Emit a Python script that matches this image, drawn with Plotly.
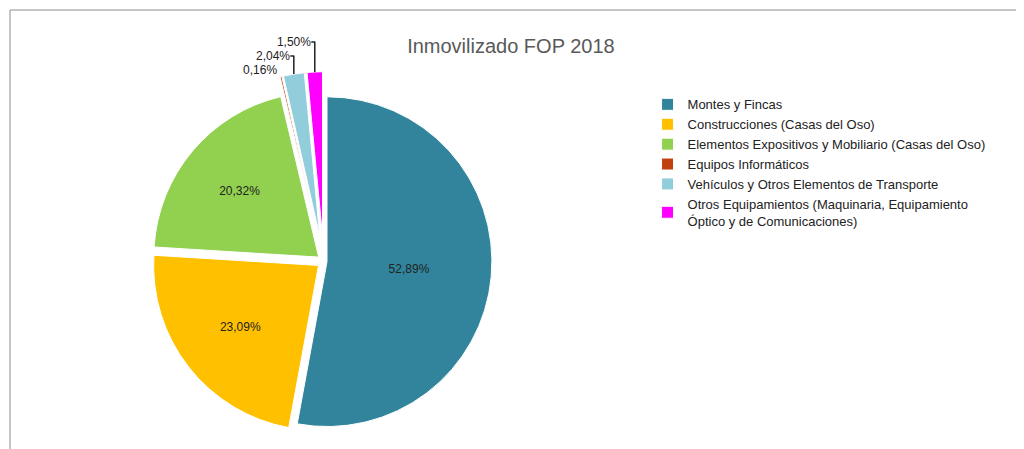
import plotly.graph_objects as go

labels = ["Montes y Fincas", "Construcciones (Casas del Oso)",
          "Elementos Expositivos y Mobiliario (Casas del Oso)", "Equipos Informáticos",
          "Vehículos y Otros Elementos de Transporte",
          "Otros Equipamientos (Maquinaria, Equipamiento<br>Óptico y de Comunicaciones)"]
values = [52.89, 23.09, 20.32, 0.16, 2.04, 1.50]
colors = ["#31849B", "#FFC000", "#92D050", "#C0400E", "#92CDDC", "#FF00FF"]
pulls = [0.02, 0.04, 0.04, 0.15, 0.15, 0.15]
positions = ["inside", "inside", "inside", "outside", "outside", "outside"]

fig = go.Figure(go.Pie(
    labels=labels, values=values, sort=False, direction="clockwise", rotation=0,
    marker=dict(colors=colors, line=dict(color="white", width=1)),
    pull=pulls, textposition=positions, texttemplate="%{percent:.2%}",
    textfont=dict(size=12, color="#222"), insidetextorientation="horizontal",
    domain=dict(x=[0.0, 0.62], y=[0.0, 0.86])
))
fig.update_layout(
    width=1016, height=445, autosize=False, separators=",.",
    paper_bgcolor="white", plot_bgcolor="white",
    title=dict(text="Inmovilizado FOP 2018", x=0.495, xanchor="center", y=0.93,
               font=dict(family="Liberation Sans, Arial", size=20, color="#595959")),
    font=dict(family="Liberation Sans, Arial", color="#222"),
    legend=dict(x=0.63, y=0.82, yanchor="top", font=dict(size=13), traceorder="normal"),
    margin=dict(l=2, r=2, t=2, b=2, autoexpand=False),
    shapes=[dict(type="rect", xref="paper", yref="paper", x0=0, y0=0, x1=1, y1=1,
                 line=dict(color="#8C8C8C", width=1))]
)
fig.write_html("out.html")
